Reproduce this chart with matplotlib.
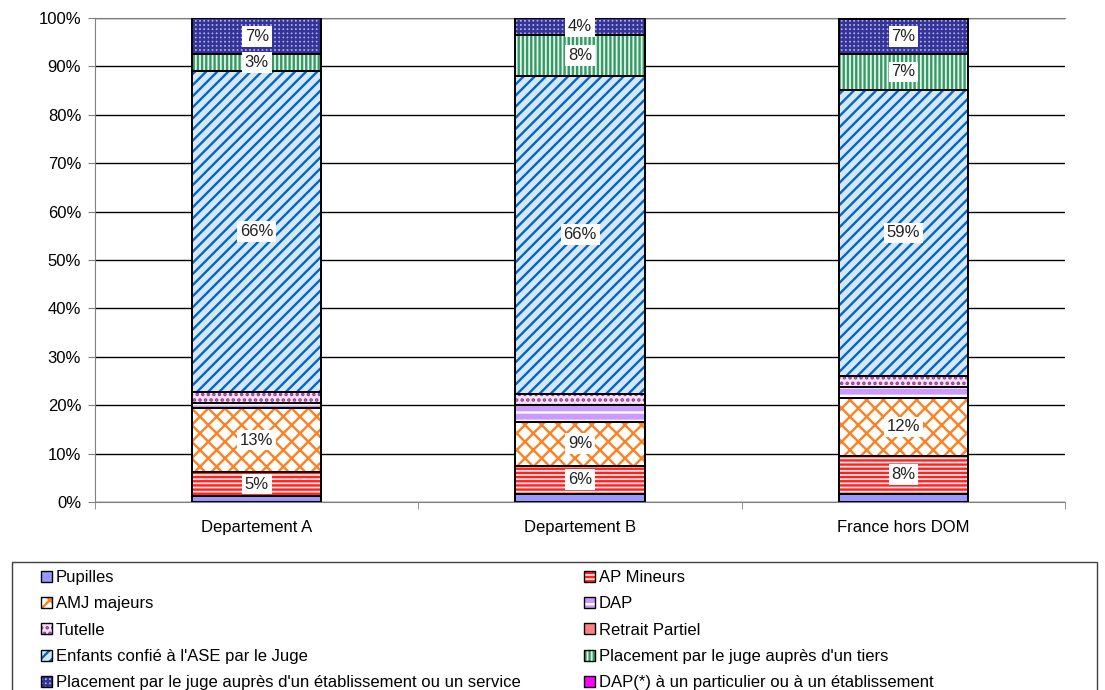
import matplotlib.pyplot as plt
from matplotlib.patches import Patch, Rectangle
from matplotlib.ticker import FixedLocator, PercentFormatter

plt.rcParams['font.family'] = ['Liberation Sans', 'DejaVu Sans']
plt.rcParams['font.size'] = 12
plt.rcParams['hatch.linewidth'] = 1.7

categories = ['Departement A', 'Departement B', 'France hors DOM']

series = ['Pupilles', 'AP Mineurs', 'AMJ majeurs', 'DAP', 'Tutelle', 'Retrait Partiel',
          "Enfants confié à l'ASE par le Juge", "Placement par le juge auprès d'un tiers",
          "Placement par le juge auprès d'un établissement ou un service",
          'DAP(*) à un particulier ou à un établissement']

pupilles = [1.3, 1.7, 1.7]
ap_mineurs = [4.8, 5.8, 7.9]
amj_majeurs = [13.4, 9.1, 11.8]
dap = [0.9, 3.5, 2.3]
tutelle = [2.3, 2.3, 2.3]
retrait_partiel = [0.0, 0.0, 0.0]
enfants_ase = [66.4, 65.6, 59.2]
placement_tiers = [3.4, 8.4, 7.3]
placement_etab = [7.4, 3.6, 7.2]
dap_etoile = [0.0, 0.0, 0.3]

values = [pupilles, ap_mineurs, amj_majeurs, dap, tutelle, retrait_partiel,
          enfants_ase, placement_tiers, placement_etab, dap_etoile]
labelled = [ap_mineurs, amj_majeurs, enfants_ase, placement_tiers, placement_etab]

# (face colour, hatch, hatch colour)
styles = [
    ('#9999FF', None, '#9999FF'),
    ('#FFE6E6', '----', '#FF2020'),
    ('#FFFFFF', 'xx', '#FF8020'),
    ('#CC99FF', '--', '#FFFFFF'),
    ('#F4E4F4', '...', '#993399'),
    ('#FF8080', None, '#FF8080'),
    ('#D6E8F8', '///', '#0066CC'),
    ('#E6F4EA', '||||', '#339966'),
    ('#B0B0E0', '++++', '#333399'),
    ('#FF00FF', None, '#FF00FF'),
]

fig = plt.figure(figsize=(11.05, 6.9), dpi=100)
ax = fig.add_axes([0.086, 0.2725, 0.878, 0.7015])

x = range(len(categories))
width = 0.4
bottom = [0.0] * len(categories)
handles = []
for name, vals, (fc, hatch, hc) in zip(series, values, styles):
    ax.bar(x, vals, width, bottom=bottom, color=fc, hatch=hatch, edgecolor=hc,
           linewidth=0, zorder=2)
    ax.bar(x, vals, width, bottom=bottom, fill=False, edgecolor='black',
           linewidth=1.4, zorder=3)
    if any(vals is v for v in labelled):
        for i, v in enumerate(vals):
            ax.text(i, bottom[i] + v / 2, f'{round(v)}%', ha='center', va='center',
                    color='#222222', zorder=4,
                    bbox=dict(facecolor='white', edgecolor='none', pad=2))
    bottom = [b + v for b, v in zip(bottom, vals)]
    handles.append((Patch(facecolor=fc, hatch=hatch, edgecolor=hc, linewidth=0),
                    Patch(fill=False, edgecolor='black', linewidth=1)))

ax.set_xlim(-0.5, 2.5)
ax.set_ylim(0, 100)
ax.yaxis.set_major_locator(FixedLocator(range(0, 101, 10)))
ax.yaxis.set_major_formatter(PercentFormatter(decimals=0))
ax.set_xticks(list(x))
ax.set_xticklabels(categories)
ax.xaxis.set_minor_locator(FixedLocator([-0.5, 0.5, 1.5, 2.5]))
ax.tick_params(axis='x', which='major', length=0, pad=13)
ax.tick_params(axis='x', which='minor', length=5, color='#808080')
ax.tick_params(axis='y', length=5, color='#808080', pad=5)
ax.grid(axis='y', color='black', linewidth=1)
ax.set_axisbelow(True)
for side in ['left', 'bottom', 'top']:
    ax.spines[side].set_color('#808080')
ax.spines['right'].set_visible(False)

fig.patches.append(Rectangle((0.011, -0.05), 0.982, 0.2355, transform=fig.transFigure,
                             fill=False, edgecolor='#404040', linewidth=1))

for col, anchor_x in [(0, 0.037), (1, 0.5285)]:
    hs = handles[col::2]
    ls = series[col::2]
    fig.legend(hs, ls, loc='upper left', bbox_to_anchor=(anchor_x, 0.174),
               frameon=False, handlelength=0.65, handleheight=0.65, handletextpad=0.25,
               labelspacing=0.68, borderpad=0, borderaxespad=0)

fig.savefig('out.png', dpi=100)
